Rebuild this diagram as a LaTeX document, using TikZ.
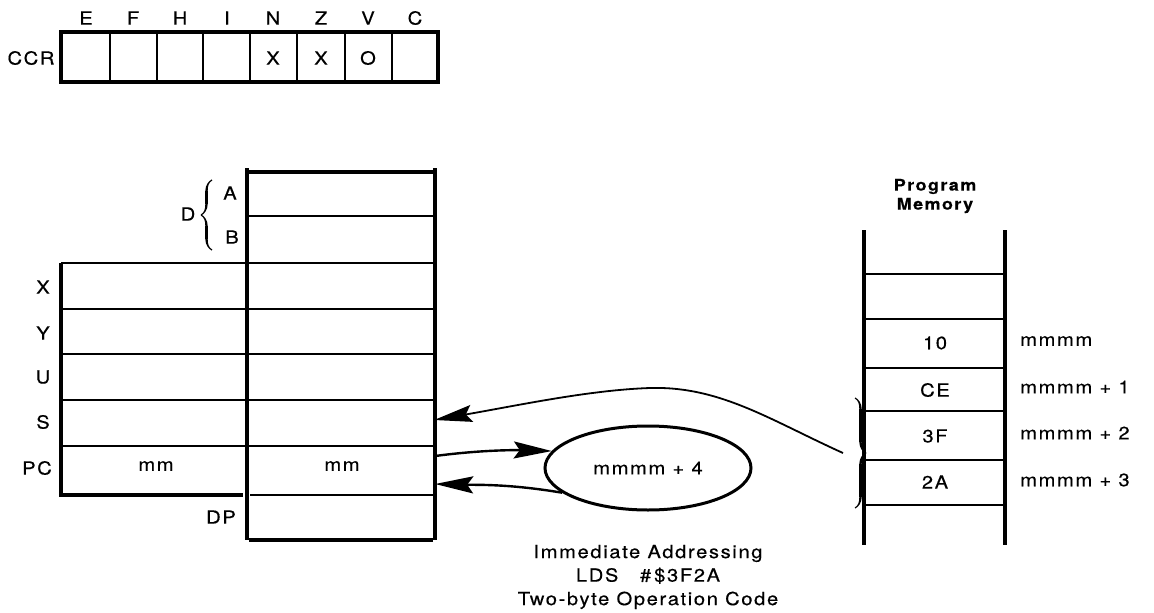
\documentclass[tikz,border=0pt]{standalone}
\usepackage{fontspec}
\setmainfont{TeX Gyre Heros}[FakeStretch=1.12,LetterSpace=9,FakeBold=0.4]
\usetikzlibrary{shapes.geometric,arrows.meta,decorations.pathreplacing,calligraphy}
\begin{document}
\begin{tikzpicture}[x=1pt,y=-1pt,
  font=\fontsize{18}{21}\selectfont,
  thickline/.style={line width=3.6pt},
  thinline/.style={line width=2.4pt},
  lbl/.style={inner sep=0pt},
  rcell/.style={inner sep=0pt,minimum width=186pt,minimum height=44pt},
  mcell/.style={inner sep=0pt,minimum width=139pt,minimum height=42pt},
  brc/.style={decorate,decoration={calligraphic brace,amplitude=11pt},line width=2.4pt},
  headed/.style={arrows={-Stealth[length=38pt,width=17pt,inset=6pt]}}
]
\useasboundingbox (0,0) rectangle (1154,613);

% ---------- CCR ----------
\node[lbl] (ccr) at (31,58) {CCR};
\draw[thickline] (61,32) rectangle (438,82);
\foreach \x in {110,157,203,250,297,345,392}
  \draw[thinline] (\x,32) -- (\x,82);
\foreach \t/\x in {E/86,F/133,H/180,I/227,N/273,Z/321,V/368,C/415}
  \node[lbl] (f\t) at (\x,18) {\t};
\node[lbl] (vN) at (273,58) {X};
\node[lbl] (vZ) at (321,58) {X};
\node[lbl] (vV) at (368,58) {O};

% ---------- registers ----------
\draw[thickline] (247,168) -- (247,540);
\draw[thickline] (435,168) -- (435,540);
\draw[thickline] (249,172) -- (433,172);
\draw[thinline] (247,216) -- (435,216);
\draw[thickline] (61,263) -- (61,495);
\foreach \y in {263,309,354,400,446}
  \draw[thinline] (61,\y) -- (435,\y);
\draw[thickline] (59,495) -- (243,495);
\draw[thinline] (250,495) -- (433,495);
\draw[thickline] (249,540) -- (433,540);

\node[rcell] (Ar) at (341,194) {};
\node[rcell] (Br) at (341,239) {};
\node[rcell] (Xl) at (154,286) {};
\node[rcell] (Xr) at (341,286) {};
\node[rcell] (Yl) at (154,331) {};
\node[rcell] (Yr) at (341,331) {};
\node[rcell] (Ul) at (154,377) {};
\node[rcell] (Ur) at (341,377) {};
\node[rcell] (Sl) at (154,423) {};
\node[rcell] (Sr) at (341,423) {};
\node[rcell] (PCl) at (156,466) {mm};
\node[rcell] (PCr) at (342,466) {mm};
\node[rcell] (DPr) at (341,517) {};

\node[lbl] (lX) at (43,287) {X};
\node[lbl] (lY) at (43,333) {Y};
\node[lbl] (lU) at (43,377) {U};
\node[lbl] (lS) at (43,422) {S};
\node[lbl] (lPC) at (37,468) {PC};
\node[lbl] (lDP) at (221,517) {DP};
\node[lbl] (lA) at (230,193) {A};
\node[lbl] (lB) at (232,237) {B};
\node[lbl] (lD) at (188,214) {D};
\draw[brc] (212,250) -- (212,180);

% ---------- program memory ----------
\node[align=center,font=\bfseries\fontsize{16}{19}\selectfont] (pmt) at (935,196) {Program\\Memory};
\draw[thickline] (864,230) -- (864,545);
\draw[thickline] (1005,230) -- (1005,545);
\foreach \y in {274,319,368,411,460,505}
  \draw[thinline] (864,\y) -- (1005,\y);
\node[mcell] (m0) at (935,343) {10};
\node[mcell] (m1) at (935,390) {CE};
\node[mcell] (m2) at (935,436) {3F};
\node[mcell] (m3) at (935,482) {2A};
\node[lbl,anchor=west] (a0) at (1020,341) {mmmm};
\node[lbl,anchor=west] (a1) at (1020,387) {mmmm + 1};
\node[lbl,anchor=west] (a2) at (1020,433) {mmmm + 2};
\node[lbl,anchor=west] (a3) at (1020,480) {mmmm + 3};
\draw[brc] (855,398) -- (855,508);
\coordinate (brtip) at (843,453);

% ---------- ellipse and arrows ----------
\node[draw,ellipse,line width=3pt,minimum width=206pt,minimum height=84pt,inner sep=0pt] (ell) at (648,468) {mmmm + 4};
\draw[headed,line width=2.4pt] ([yshift=10pt]PCr.east) .. controls (480,450) and (515,450) .. (ell.170);
\draw[headed,line width=2.4pt] (ell.196) .. controls (510,484) and (480,485) .. ([yshift=-18pt]PCr.east);
\draw[headed,line width=1.8pt] (brtip) .. controls (770,420) and (720,386) .. (650,388) .. controls (590,390) and (520,405) .. ([yshift=3pt]Sr.east);

% ---------- caption ----------
\node[align=center,font=\fontsize{18}{23.5}\selectfont] (cap) at (648,577) {Immediate Addressing\\LDS\hspace{1.2em}\#\,\$3F2A\\Two-byte Operation Code};
\end{tikzpicture}
\end{document}
